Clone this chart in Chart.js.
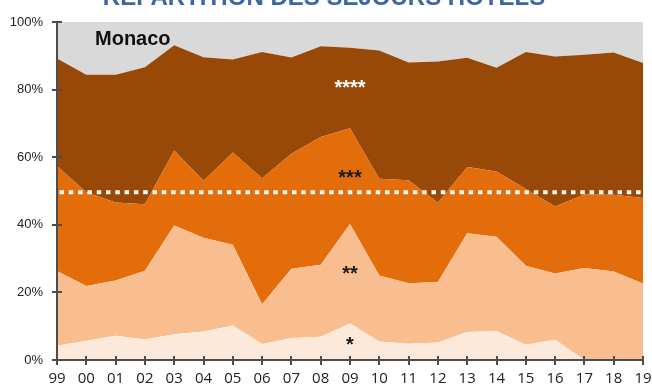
<!DOCTYPE html>
<html>
<head>
<meta charset="utf-8">
<script src="https://cdn.jsdelivr.net/npm/chart.js@4/dist/chart.umd.min.js"></script>
<style>
  html, body { margin: 0; padding: 0; background: #ffffff; }
  #wrap { width: 652px; height: 385px; }
</style>
</head>
<body>
<div id="wrap"><canvas id="c" width="652" height="385"></canvas></div>
<script>
// ---- Data (shares in % of hotel stays, by category) ----
const years = ["99","00","01","02","03","04","05","06","07","08","09","10","11","12","13","14","15","16","17","18","19"];
const oneStar   = [4.2, 5.7, 7.2, 6.1, 7.6, 8.4, 10.2, 4.7, 6.5, 6.9, 10.8, 5.5, 4.8, 5.2, 8.3, 8.6, 4.5, 6.0, 0, 0, 0];
const twoStar   = [22.1, 16.2, 16.3, 20.3, 32.2, 27.8, 23.9, 11.8, 20.5, 21.3, 29.4, 19.5, 17.9, 17.9, 29.2, 27.9, 23.4, 19.6, 27.2, 26.2, 22.6];
const threeStar = [31.1, 27.7, 23.1, 19.7, 22.2, 16.8, 27.3, 37.3, 34.0, 37.8, 28.4, 28.6, 30.5, 23.4, 19.6, 19.3, 22.7, 19.8, 21.8, 22.7, 25.3];
const fourStar  = [31.8, 34.8, 37.8, 40.5, 31.1, 36.6, 27.5, 37.3, 28.5, 26.8, 23.8, 38.0, 34.8, 41.8, 32.3, 30.7, 40.5, 44.4, 41.3, 42.1, 40.0];
const otherShare = [10.8, 15.6, 15.6, 13.4, 6.9, 10.4, 11.1, 8.9, 10.5, 7.2, 7.6, 8.4, 12.0, 11.7, 10.6, 13.5, 8.9, 10.2, 9.7, 9.0, 12.1];
const threshold = 49.6;
const yTicks = [0, 20, 40, 60, 80, 100];
const titleText = "RÉPARTITION DES SÉJOURS HÔTELS";
const placeName = "Monaco";

function area(label, data, color, fill) {
  return {
    label, data,
    backgroundColor: color,
    borderColor: color,
    borderWidth: 0,
    pointRadius: 0,
    tension: 0,
    fill
  };
}

const decor = {
  id: 'decor',
  afterDraw(chart) {
    const ctx = chart.ctx;
    const xs = chart.scales.x, ys = chart.scales.y;
    const a = chart.chartArea;
    ctx.save();

    // dotted threshold line
    const ty = ys.getPixelForValue(threshold);
    ctx.strokeStyle = '#ffffff';
    ctx.lineWidth = 4;
    ctx.setLineDash([4.5, 4.8]);
    ctx.lineDashOffset = -2.5;
    ctx.beginPath();
    ctx.moveTo(a.left, ty);
    ctx.lineTo(a.right, ty);
    ctx.stroke();
    ctx.setLineDash([]);
    ctx.lineDashOffset = 0;

    // axes (filled rectangles)
    ctx.fillStyle = '#4d4d4d';
    const L = Math.round(a.left), B = Math.round(a.bottom);
    ctx.fillRect(L - 1, a.top, 2, a.bottom - a.top);
    ctx.fillRect(L - 1, B - 1, a.right - L + 1, 2);
    yTicks.forEach(v => {
      const y = Math.round(ys.getPixelForValue(v));
      ctx.fillRect(L - 5, y - 1, 10, 2);
    });
    years.forEach((_, i) => {
      const x = Math.round(xs.getPixelForValue(i));
      ctx.fillRect(x - 1, B - 4, 2, 9);
    });

    // star labels
    const cx = xs.getPixelForValue(10);
    const stars = [
      { t: '****', v: 81.8, c: '#ffffff' },
      { t: '***', v: 55.1, c: '#1a1a1a' },
      { t: '**', v: 26.7, c: '#1a1a1a' },
      { t: '*', v: 5.6, c: '#1a1a1a' }
    ];
    ctx.font = 'bold 20px "Liberation Sans", Arial, sans-serif';
    ctx.textAlign = 'center';
    ctx.textBaseline = 'alphabetic';
    stars.forEach(s => {
      const m = ctx.measureText(s.t);
      const asc = m.actualBoundingBoxAscent, desc = m.actualBoundingBoxDescent;
      const yc = ys.getPixelForValue(s.v);
      ctx.fillStyle = s.c;
      ctx.fillText(s.t, cx, yc + (asc - desc) / 2);
    });

    // place name
    ctx.font = 'bold 20px "Liberation Sans", Arial, sans-serif';
    ctx.textAlign = 'left';
    ctx.textBaseline = 'middle';
    ctx.fillStyle = '#111111';
    ctx.fillText(placeName, 95, 39);

    // title (partly cut at top)
    ctx.font = 'bold 24px "Liberation Sans", Arial, sans-serif';
    ctx.textAlign = 'center';
    ctx.textBaseline = 'alphabetic';
    ctx.fillStyle = '#3B66A3';
    ctx.fillText(titleText, 324, 5);

    ctx.restore();
  }
};

new Chart(document.getElementById('c'), {
  type: 'line',
  data: {
    labels: years,
    datasets: [
      area('*', oneStar, '#FDE9D9', 'origin'),
      area('**', twoStar, '#F9BE8F', '-1'),
      area('***', threeStar, '#E36C0B', '-1'),
      area('****', fourStar, '#984807', '-1'),
      area('autres', otherShare, '#D9D9D9', '-1')
    ]
  },
  options: {
    responsive: false,
    animation: false,
    devicePixelRatio: 1,
    layout: { padding: { left: 0, right: 9, top: 22, bottom: 0 } },
    plugins: { legend: { display: false }, tooltip: { enabled: false }, title: { display: false } },
    scales: {
      x: {
        type: 'category',
        offset: false,
        grid: { display: false, drawTicks: false },
        border: { display: false },
        ticks: {
          autoSkip: false, maxRotation: 0, padding: 10,
          color: '#222222',
          font: { family: '"Open Sans", "Noto Sans", sans-serif', size: 15 }
        },
        afterFit(s) { s.height = 25; s.paddingLeft = 0; s.paddingRight = 0; }
      },
      y: {
        stacked: true,
        min: 0, max: 100,
        grid: { display: false, drawTicks: false },
        border: { display: false },
        ticks: {
          stepSize: 20, padding: 14,
          color: '#222222',
          font: { family: '"Liberation Sans", Arial, sans-serif', size: 13 },
          callback: v => v + '%'
        },
        afterFit(s) { s.width = 57; s.paddingTop = 0; s.paddingBottom = 0; }
      }
    }
  },
  plugins: [decor]
});
</script>
</body>
</html>
